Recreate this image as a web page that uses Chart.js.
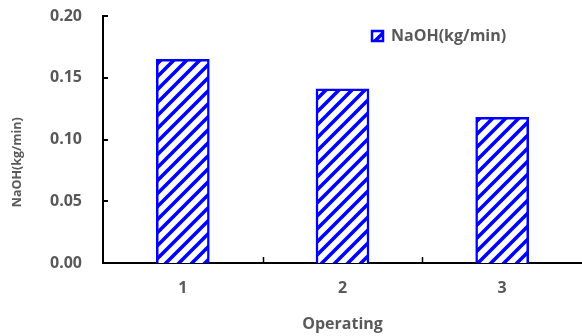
<!DOCTYPE html>
<html><head><meta charset="utf-8">
<script src="https://cdn.jsdelivr.net/npm/chart.js@4.4.0/dist/chart.umd.min.js"></script>
<style>html,body{margin:0;padding:0;background:#fff}</style></head>
<body><canvas id="c" width="582" height="336"></canvas>
<script>
const categories = ['1', '2', '3'];
const naohValues = [0.165, 0.141, 0.118];
const seriesLabel = 'NaOH(kg/min)';
const xTitle = 'Operating';
const yTitle = 'NaOH(kg/min)';
const yMin = 0, yMax = 0.20, yStep = 0.05;

const BLUE = '#0000FF';
const GRAY = '#595959';
const FONT = "'Open Sans', 'Noto Sans', sans-serif";

function makePattern() {
  const s = 13;
  const pc = document.createElement('canvas');
  pc.width = s; pc.height = s;
  const p = pc.getContext('2d');
  p.fillStyle = '#fff'; p.fillRect(0, 0, s, s);
  p.strokeStyle = BLUE; p.lineWidth = 3.6;
  p.beginPath();
  p.moveTo(-2, s + 2); p.lineTo(s + 2, -2);
  p.moveTo(-2, 2); p.lineTo(2, -2);
  p.moveTo(s - 2, s + 2); p.lineTo(s + 2, s - 2);
  p.stroke();
  return document.getElementById('c').getContext('2d').createPattern(pc, 'repeat');
}
const hatch = makePattern();

const innerTicks = {
  id: 'innerTicks',
  afterLayout(chart) {
    const lg = chart.legend;
    const w = lg.width, h = lg.height;
    lg.left = 362; lg.top = 18;
    lg.right = lg.left + w; lg.bottom = lg.top + h;
  },
  afterDraw(chart) {
    const { ctx, scales: { x, y } } = chart;
    ctx.save();
    ctx.strokeStyle = '#000';
    ctx.lineWidth = 2;
    y.ticks.forEach(t => {
      const py = Math.round(y.getPixelForValue(t.value));
      ctx.beginPath(); ctx.moveTo(y.right, py); ctx.lineTo(y.right + 5, py); ctx.stroke();
    });
    ctx.lineWidth = 1.5;
    for (let i = 0; i < categories.length - 1; i++) {
      const px = Math.round(x.getPixelForValue(i + 0.5)) + 0.5;
      ctx.beginPath(); ctx.moveTo(px, x.top); ctx.lineTo(px, x.top - 6); ctx.stroke();
    }
    ctx.restore();
  }
};

new Chart(document.getElementById('c'), {
  type: 'bar',
  data: {
    labels: categories,
    datasets: [{
      label: seriesLabel,
      data: naohValues,
      backgroundColor: hatch,
      borderColor: BLUE,
      borderWidth: 2.5,
      barThickness: 53
    }]
  },
  options: {
    responsive: false,
    animation: false,
    devicePixelRatio: 1,
    layout: { padding: { top: 16, left: 0, right: 0, bottom: 0 } },
    plugins: {
      legend: {
        position: 'chartArea',
        align: 'start',
        labels: {
          boxWidth: 11, boxHeight: 10,
          color: GRAY,
          font: { family: FONT, size: 16, weight: 'bold' }
        }
      },
      tooltip: { enabled: false }
    },
    scales: {
      x: {
        grid: { display: false, drawTicks: false },
        border: { display: true, color: '#000', width: 2 },
        ticks: { color: GRAY, padding: 16, font: { family: FONT, size: 16, weight: 'bold' } },
        title: { display: true, text: xTitle, color: GRAY, padding: { top: 0, bottom: 2 },
                 font: { family: FONT, size: 16, weight: 'bold' } },
        afterFit(s) { s.height = 73; s.paddingLeft = 0; s.paddingRight = 0; }
      },
      y: {
        min: yMin, max: yMax,
        grid: { display: false, drawTicks: false },
        border: { display: true, color: '#000', width: 2 },
        ticks: { stepSize: yStep, color: GRAY, padding: 21,
                 font: { family: FONT, size: 16, weight: 'bold' },
                 callback: v => Number(v).toFixed(2) },
        title: { display: true, text: yTitle + '              ', color: GRAY, padding: { top: 10, bottom: 0 },
                 font: { family: FONT, size: 12.5, weight: 'bold' } },
        afterFit(s) { s.width = 103; s.paddingTop = 0; s.paddingBottom = 0; }
      }
    }
  },
  plugins: [innerTicks]
});
</script>
</body></html>
